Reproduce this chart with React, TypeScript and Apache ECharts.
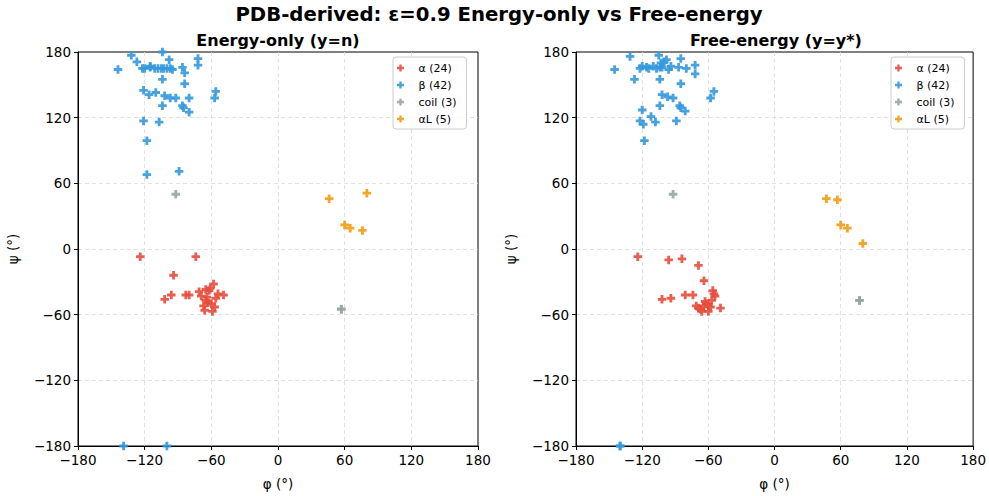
import React, { useEffect, useRef } from "react";
import * as echarts from "echarts";

// ---------- data (φ, ψ in degrees) ----------
const seriesNames = ["α (24)", "β (42)", "coil (3)", "αL (5)"];
const seriesColors = ["#e74c3c", "#3498db", "#95a5a6", "#f39c12"];
const axisTicks = [-180, -120, -60, 0, 60, 120, 180];

// Energy-only (y=n)
const energyAlpha: [number, number][] = [
  [-124, -7], [-74, -7], [-94, -24], [-102, -46], [-96, -42], [-83, -42],
  [-80, -42], [-71, -39], [-69, -43], [-65, -37], [-61, -36], [-58, -32],
  [-62, -38], [-54, -41], [-49, -42], [-56, -45], [-65, -47], [-63, -49],
  [-67, -52], [-57, -53], [-66, -56], [-59, -57], [-60, -50], [-64, -44],
];
const energyBeta: [number, number][] = [
  [-132, 177], [-104, 180], [-127, 171], [-144, 164], [-98, 173], [-72, 174],
  [-72, 168], [-86, 166], [-84, 161],
  [-122, 165], [-120, 165], [-115, 166], [-115, 167], [-111, 165], [-108, 165],
  [-105, 165], [-103, 165], [-97, 165], [-95, 164], [-100, 165],
  [-104, 155], [-84, 151], [-121, 145], [-116, 141], [-110, 143], [-102, 140],
  [-97, 138], [-92, 138], [-80, 138], [-56, 144], [-57, 138], [-104, 131],
  [-86, 131], [-85, 129], [-80, 125], [-121, 117], [-107, 116], [-118, 99],
  [-118, 68], [-89, 71], [-139, -180], [-100, -180],
];
const energyCoil: [number, number][] = [[-92, 50], [57, -55], [57, -55]];
const energyAlphaL: [number, number][] = [[46, 46], [80, 51], [60, 22], [65, 19], [76, 17]];

// Free-energy (y=y*)
const freeAlpha: [number, number][] = [
  [-124, -7], [-96, -10], [-84, -9], [-69, -15], [-64, -29], [-102, -46],
  [-94, -45], [-81, -42], [-74, -42], [-56, -38], [-54, -43], [-57, -47],
  [-71, -52], [-67, -55], [-64, -52], [-62, -50], [-60, -52], [-58, -53],
  [-60, -57], [-49, -54], [-69, -54], [-66, -57], [-55, -41], [-63, -48],
];
const freeBeta: [number, number][] = [
  [-131, 176], [-105, 177], [-85, 174], [-145, 164], [-122, 165], [-120, 167],
  [-116, 166], [-114, 165], [-110, 167], [-107, 165], [-104, 166], [-102, 166],
  [-103, 170], [-100, 171], [-98, 173], [-96, 164], [-94, 167], [-87, 166],
  [-80, 165], [-72, 168], [-72, 160], [-127, 155], [-104, 155], [-85, 151],
  [-55, 144], [-58, 138], [-102, 141], [-97, 139], [-92, 138], [-104, 131],
  [-86, 131], [-85, 129], [-81, 126], [-120, 127], [-112, 121], [-122, 117],
  [-119, 114], [-108, 116], [-89, 117], [-118, 99], [-140, -180], [-140, -180],
];
const freeCoil: [number, number][] = [[-92, 50], [77, -47], [77, -47]];
const freeAlphaL: [number, number][] = [[47, 46], [57, 45], [60, 22], [66, 19], [80, 5]];

const panelTitles = ["Energy-only (y=n)", "Free-energy (y=y*)"];
const mainTitle = "PDB-derived: ε=0.9 Energy-only vs Free-energy";
const xName = "φ (°)";
const yName = "ψ (°)";

const panels = [
  [energyAlpha, energyBeta, energyCoil, energyAlphaL],
  [freeAlpha, freeBeta, freeCoil, freeAlphaL],
];

const PLUS = "path://M3,0H6V3H9V6H6V9H3V6H0V3H3Z";
const FONT = "DejaVu Sans";

const fmt = (v: number) => String(v).replace("-", "\u2212");

export default function App() {
  const ref = useRef<HTMLDivElement>(null);
  useEffect(() => {
    if (!ref.current) return;
    const chart = echarts.init(ref.current, undefined, { renderer: "svg" });
    const gridLefts = [78, 576];
    const W = 400;
    const grids = gridLefts.map((l) => ({
      left: l,
      top: 52,
      width: W,
      height: 400,
      show: true,
      borderColor: "#000",
      borderWidth: 1,
      backgroundColor: "transparent",
    }));
    const axisCommon = {
      min: axisTicks[0],
      max: axisTicks[axisTicks.length - 1],
      interval: 60,
      axisLine: { show: true, onZero: false, lineStyle: { color: "#000", width: 1 } },
      axisTick: { show: true, length: 4, lineStyle: { color: "#000" } },
      axisLabel: { color: "#000", fontSize: 13.5, fontFamily: FONT, formatter: fmt, margin: 7 },
      splitLine: {
        show: true,
        showMinLine: false,
        showMaxLine: false,
        lineStyle: { color: "#d9d9d9", type: [4, 3], width: 0.8 },
      },
      nameTextStyle: { color: "#000", fontSize: 13.5, fontFamily: FONT },
    };
    const xAxes = gridLefts.map((_, i) => ({
      ...axisCommon,
      type: "value",
      gridIndex: i,
      name: xName,
      nameLocation: "middle",
      nameGap: 31,
    }));
    const yAxes = gridLefts.map((_, i) => ({
      ...axisCommon,
      type: "value",
      gridIndex: i,
      name: yName,
      nameLocation: "middle",
      nameGap: 58,
      nameRotate: 90,
    }));
    const series: any[] = [];
    panels.forEach((groups, p) => {
      groups.forEach((data, k) => {
        series.push({
          type: "scatter",
          name: seriesNames[k],
          xAxisIndex: p,
          yAxisIndex: p,
          data,
          symbol: PLUS,
          symbolSize: 8.5,
          clip: true,
          itemStyle: { color: seriesColors[k], opacity: 0.9 },
          emphasis: { disabled: true },
        });
      });
    });
    const legends = gridLefts.map((l) => ({
      data: seriesNames,
      orient: "vertical",
      left: l + 315,
      top: 57,
      icon: PLUS,
      itemWidth: 26,
      itemHeight: 7,
      itemGap: 5,
      padding: [5, 10, 4, 4],
      borderColor: "#ccc",
      borderWidth: 1,
      borderRadius: 3,
      backgroundColor: "rgba(255,255,255,0.8)",
      textStyle: { color: "#000", fontSize: 11, fontFamily: FONT, lineHeight: 12 },
      selectedMode: false,
    }));
    chart.setOption({
      animation: false,
      backgroundColor: "#fff",
      grid: grids,
      xAxis: xAxes,
      yAxis: yAxes,
      legend: legends,
      series,
      graphic: [
        {
          type: "text",
          x: 499,
          y: 14,
          style: {
            text: mainTitle,
            textAlign: "center",
            textVerticalAlign: "middle",
            font: `bold 19.7px '${FONT}'`,
            fill: "#000",
          },
        },
        ...panelTitles.map((t, i) => ({
          type: "text",
          x: gridLefts[i] + W / 2,
          y: 40,
          style: {
            text: t,
            textAlign: "center",
            textVerticalAlign: "middle",
            font: `bold 16px '${FONT}'`,
            fill: "#000",
          },
        })),
      ],
    });
    return () => chart.dispose();
  }, []);
  return (
    <div
      ref={ref}
      style={{ position: "fixed", left: 0, top: 0, width: 989, height: 496 }}
    />
  );
}
